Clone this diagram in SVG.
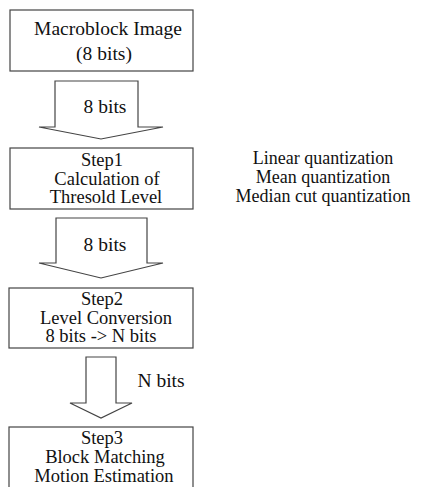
<svg xmlns="http://www.w3.org/2000/svg" width="424" height="487" viewBox="0 0 424 487" font-family="'Liberation Serif', 'Times New Roman', 'DejaVu Serif', serif">
<style>
.box{fill:#fff;stroke:#444;stroke-width:1.2}
.arr{fill:#fff;stroke:#444;stroke-width:1.2;stroke-linejoin:miter}
.t{font-family:'Liberation Serif','Times New Roman','DejaVu Serif',serif;font-size:19.5px;fill:#111;text-anchor:middle}
.s{font-size:18.5px}
.r{font-size:18px}
</style>
<rect width="424" height="487" fill="#fff"/>
<g id="connectors">
<path class="arr" d="M55,81 H138 V127 H163 L101,139 L39,127 H55 Z"/>
<path class="arr" d="M56,218 H147 V263 H163 L101,278 L39,263 H56 Z"/>
<path class="arr" d="M86,357 H116 V403 H132 L101,418 L70,403 H86 Z"/>
<text class="t" x="105" y="113">8 bits</text>
<text class="t" x="105" y="251">8 bits</text>
<text class="t" x="161" y="387">N bits</text>
</g>
<g id="macroblock">
<rect class="box" x="10" y="10" width="183" height="61"/>
<text class="t" x="108" y="35">Macroblock Image</text>
<text class="t" x="104" y="60">(8 bits)</text>
</g>
<g id="step1">
<rect class="box" x="10" y="148" width="183" height="61"/>
<text class="t s" x="102" y="166">Step1</text>
<text class="t s" x="107" y="184.5">Calculation of</text>
<text class="t s" x="106" y="203">Thresold Level</text>
</g>
<g id="step2">
<rect class="box" x="9" y="288" width="184" height="60"/>
<text class="t s" x="102" y="305">Step2</text>
<text class="t s" x="106" y="323.5">Level Conversion</text>
<text class="t s" x="101" y="342">8 bits -&gt; N bits</text>
</g>
<g id="step3">
<rect class="box" x="9" y="427" width="184" height="70"/>
<text class="t s" x="102" y="444">Step3</text>
<text class="t s" x="105" y="463">Block Matching</text>
<text class="t s" x="104" y="482">Motion Estimation</text>
</g>
<g id="methods">
<text class="t r" x="323" y="163.5">Linear quantization</text>
<text class="t r" x="323" y="182.5">Mean quantization</text>
<text class="t r" x="323" y="201.5">Median cut quantization</text>
</g>
</svg>
